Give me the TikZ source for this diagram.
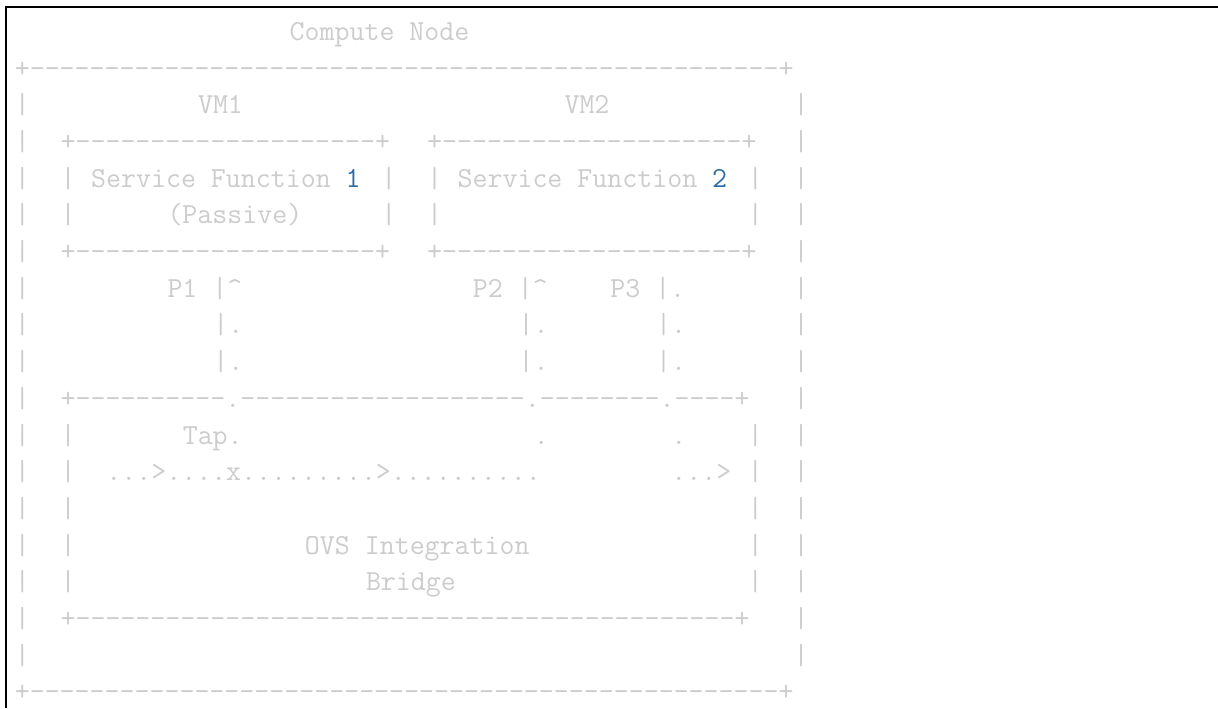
\documentclass[tikz,border=0pt]{standalone}
\usepackage{tikz}
\usepackage{xcolor}
\definecolor{asciigray}{RGB}{204,204,204}
\definecolor{numblue}{RGB}{46,110,165}
% run of n hyphens, one group each so no ligature forms
\newcommand{\dashrun}[1]{\foreach \k in {1,...,#1}{-}}

\begin{document}
\begin{tikzpicture}[
    % Styles
    ascii/.style={ % one piece of the ascii drawing, placed at (column,row)
        inner sep=0pt,
        anchor=base west,
        text=asciigray,
        font=\fontsize{14.54pt}{18pt}\selectfont\ttfamily
    },
    frame_line/.style={ % black edge of the screenshot
        line width=0.9pt,
        black
    }
]
% fixed page size (1218 x 708 px)
\useasboundingbox (0,0) rectangle (609pt,-354pt);
\draw[frame_line] (3pt,-354pt) -- (3pt,-3.6pt) -- (609pt,-3.6pt);

% character grid: x = column, y = row
\begin{scope}[shift={(7.2pt,-20.15pt)}, x=7.635pt, y=-18.35pt]

% --- Title and outer box ---
\node[ascii] (title) at (18,0) {Compute Node};
\node[ascii] (outertop) at (0,1) {+\dashrun{50}+};
\node[ascii] (outerbot) at (0,18) {+\dashrun{50}+};
\foreach \r in {2,...,17} {
    \node[ascii] (outl-\r) at (0,\r) {|};
    \node[ascii] (outr-\r) at (51,\r) {|};
}

% --- VMs with service functions ---
\node[ascii] (vm1) at (12,2) {VM1};
\node[ascii] (vm2) at (36,2) {VM2};
\foreach \c/\n in {3/1,27/2} {
    \node[ascii] (sftop\n) at (\c,3) {+\dashrun{20}+};
    \node[ascii] (sfbot\n) at (\c,6) {+\dashrun{20}+};
}
\foreach \c in {3,24,27,48}
    \foreach \r in {4,5}
        \node[ascii] (sfside-\c-\r) at (\c,\r) {|};
\node[ascii] (sf1) at (5,4) {Service Function \textcolor{numblue}{1}};
\node[ascii] (passive) at (10,5) {(Passive)};
\node[ascii] (sf2) at (29,4) {Service Function \textcolor{numblue}{2}};

% --- Ports ---
\node[ascii] (p1) at (10,7) {P1 |\textasciicircum};
\node[ascii] (p2) at (30,7) {P2 |\textasciicircum};
\node[ascii] (p3) at (39,7) {P3 |.};
\foreach \c in {13,33,42}
    \foreach \r in {8,9}
        \node[ascii] (link-\c-\r) at (\c,\r) {|.};

% --- OVS integration bridge ---
\node[ascii] (brtop) at (3,10) {+\dashrun{10}.\dashrun{19}.\dashrun{8}.\dashrun{4}+};
\node[ascii] (brbot) at (3,16) {+\dashrun{44}+};
\foreach \c in {3,48}
    \foreach \r in {11,...,15}
        \node[ascii] (brside-\c-\r) at (\c,\r) {|};
\node[ascii] (tap) at (11,11) {Tap.};
\node[ascii] (dot2) at (34,11) {.};
\node[ascii] (dot3) at (43,11) {.};
\node[ascii] (flow) at (6,12) {...>....x.........>..........};
\node[ascii] (flowout) at (43,12) {...>};
\node[ascii] (ovs) at (19,14) {OVS Integration};
\node[ascii] (bridge) at (23,15) {Bridge};

\end{scope}
\end{tikzpicture}
\end{document}
